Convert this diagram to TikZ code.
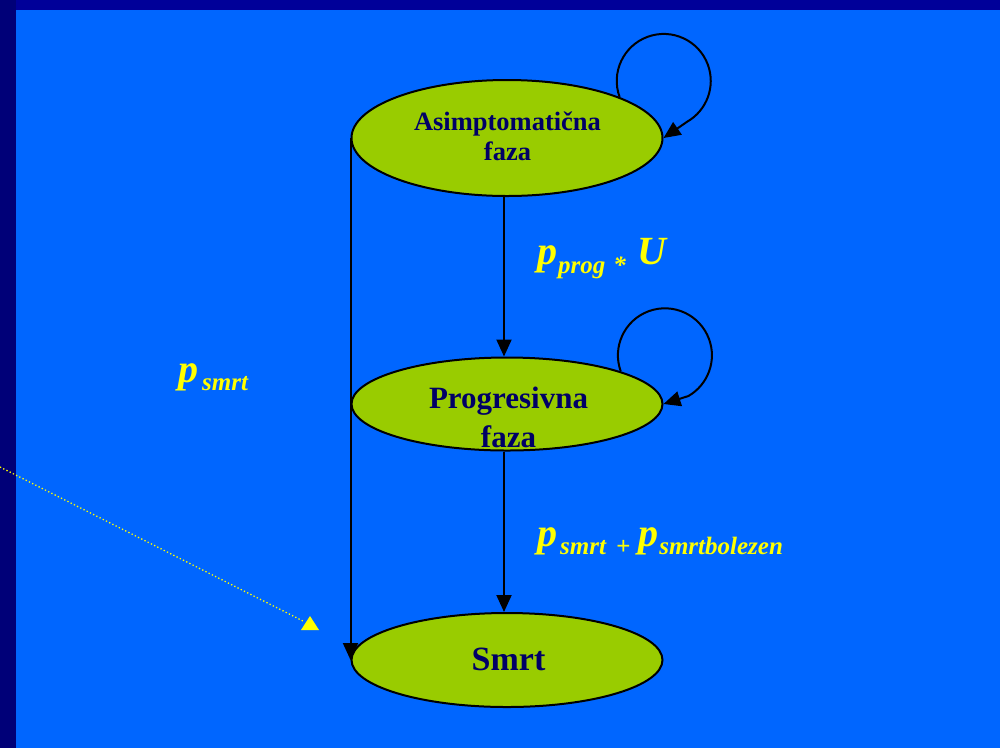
\documentclass[tikz,border=0pt]{standalone}
\usepackage{fontspec}
\setmainfont{Liberation Serif}
\usetikzlibrary{shapes.geometric,arrows.meta}
\definecolor{navytop}{HTML}{000099}
\definecolor{navyleft}{HTML}{000078}
\definecolor{bgblue}{HTML}{0066FF}
\definecolor{stategreen}{HTML}{99CC00}
\definecolor{navytext}{HTML}{000066}
\definecolor{labyellow}{HTML}{FFFF00}
\tikzset{
  statebox/.style={ellipse, draw=black, line width=2pt, fill=stategreen, minimum width=311pt, inner sep=0pt},
  stxt/.style={text=navytext, anchor=base, inner sep=0pt},
  arr/.style={draw=black, line width=2pt, -{Triangle[length=17pt,width=15pt]}},
  plab/.style={text=labyellow, font=\bfseries\itshape, anchor=base west, inner sep=0pt},
  dotline/.style={draw=labyellow, line width=1.3pt, dash pattern=on 1.3pt off 2.3pt}
}
\newcommand{\mainsz}{\fontsize{40pt}{44pt}\selectfont}
\newcommand{\subsz}{\fontsize{25pt}{28pt}\selectfont}
\begin{document}
\begin{tikzpicture}[x=1pt,y=-1pt]
\useasboundingbox (0,0) rectangle (1000,748);
% background
\fill[navyleft] (0,0) rectangle (1000,748);
\fill[navytop] (16,0) rectangle (1000,10);
\fill[bgblue] (16,10) rectangle (1000,748);
% states
\node[statebox, minimum height=116pt] (e1) at (507,138) {};
\node[statebox, minimum height=93pt] (e2) at (507,404) {};
\node[statebox, minimum height=94pt] (e3) at (507,660) {};
% state texts
\node[stxt, font=\bfseries\fontsize{26.5pt}{30pt}\selectfont] (t1a) at (507.5,130) {Asimptomatična};
\node[stxt, font=\bfseries\fontsize{26.5pt}{30pt}\selectfont] (t1b) at (507.5,160) {faza};
\node[stxt, font=\bfseries\fontsize{31pt}{34pt}\selectfont] (t2a) at (508.5,408) {Progresivna};
\node[stxt, font=\bfseries\fontsize{31pt}{34pt}\selectfont] (t2b) at (508.5,447) {faza};
\node[stxt, font=\bfseries\fontsize{34pt}{38pt}\selectfont] (t3) at (508.5,670) {Smrt};
% connectors
\draw[arr] ([xshift=-3pt]e1.south) -- ([xshift=-3pt]e2.north);
\draw[arr] ([xshift=-3pt]e2.south) -- ([xshift=-3pt]e3.north);
\draw[arr] (e1.west) -- (e3.west);
\draw[arr] (e1.20) arc[start angle=160, end angle=420, radius=47] -- (e1.east);
\draw[arr] (e2.16) arc[start angle=160, end angle=420, radius=47] -- (e2.east);
% labels
\node[plab] (l1) at (537,264) {\mainsz p\hspace{1pt}\raisebox{-9.5pt}{\subsz prog\hspace{8pt}*}\hspace{12pt}U};
\node[plab] (l2) at (537,546) {\mainsz p\hspace{3pt}\raisebox{-8pt}{\subsz smrt\hspace{10pt}+}\hspace{8pt}p\hspace{1pt}\raisebox{-8pt}{\subsz smrtbolezen}};
\node[plab] (l3) at (178,382) {\mainsz p\hspace{4pt}\raisebox{-8pt}{\subsz smrt}};
% dotted pointer
\coordinate (dstart) at (0,467);
\coordinate (dend) at (303,621);
\draw[dotline] (dstart) -- (dend);
\fill[labyellow] (301,630) -- (310,616) -- (319,630) -- cycle;
\end{tikzpicture}
\end{document}
